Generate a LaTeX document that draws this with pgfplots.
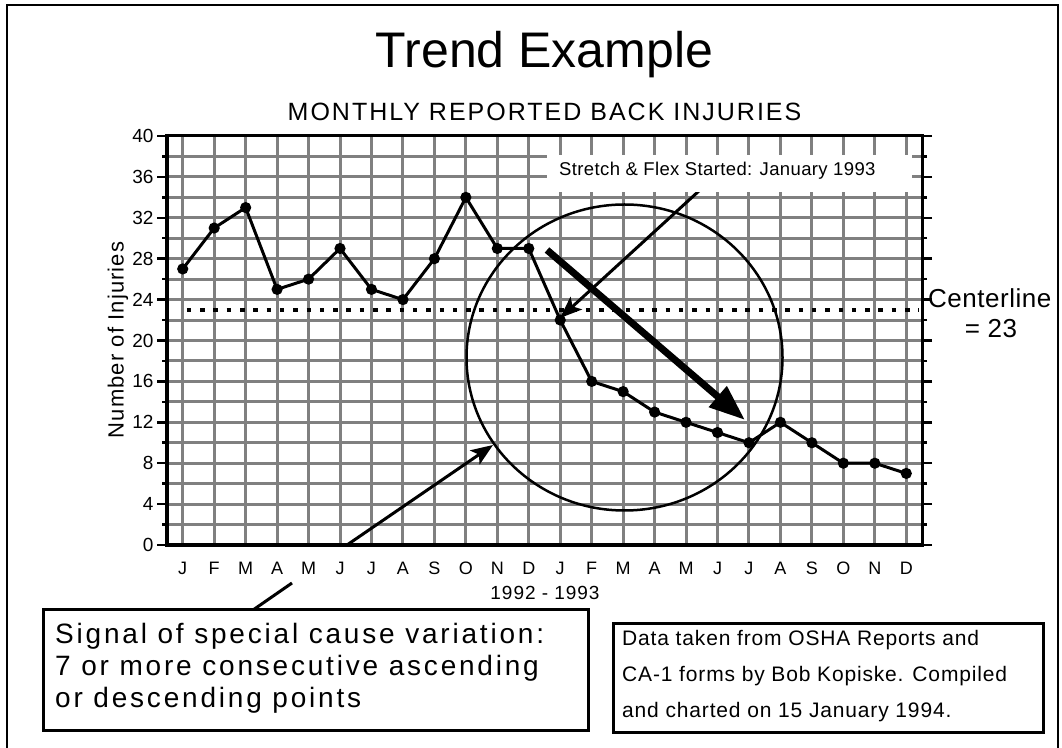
\documentclass[border=0pt]{standalone}
\usepackage{pgfplots}
\pgfplotsset{compat=1.18}
\usepackage{fontspec}
\setmainfont{Liberation Sans}
\usetikzlibrary{arrows.meta}
\newcommand\fs[1]{\fontsize{#1}{#1}\selectfont}
\definecolor{gridgray}{HTML}{808080}
\begin{document}
\begin{tikzpicture}
\begin{axis}[
  at={(167pt,202pt)}, anchor=south west,
  scale only axis, width=755pt, height=409pt,
  xmin=-0.5, xmax=23.5, ymin=0, ymax=40,
  xtick={0,...,23},
  xticklabels={J,F,M,A,M,J,J,A,S,O,N,D,J,F,M,A,M,J,J,A,S,O,N,D},
  ytick={0,4,...,40}, minor ytick={2,6,...,38},
  grid=both,
  major grid style={gridgray, line width=3pt},
  minor grid style={gridgray, line width=3pt},
  xtick style={draw=none},
  ytick style={black, line width=2.5pt},
  tick align=outside, major tick length=10pt, minor tick length=5pt,
  axis line style={black, line width=3pt},
  /pgf/number format/assume math mode=true,
  yticklabel style={font=\fs{19}},
  xticklabel style={font=\fs{18}, text height=13pt, text depth=0pt, yshift=-3pt},
]
\addplot[black, line width=4.5pt, dash pattern=on 4.5pt off 8.8pt] coordinates {(0.13,23) (23.4,23)};
\addplot[black, line width=3pt, mark=*, mark size=4pt] coordinates {
(0,27) (1,31) (2,33) (3,25) (4,26) (5,29) (6,25) (7,24) (8,28) (9,34) (10,29) (11,29)
(12,22) (13,16) (14,15) (15,13) (16,12) (17,11) (18,10) (19,12) (20,10) (21,8) (22,8) (23,7)};
\end{axis}
\begin{scope}[x=1pt,y=-1pt,shift={(0pt,747pt)}]
\useasboundingbox (0,0) rectangle (1062,747);
% thick left and bottom axis lines
\draw[line width=4.5pt] (167,134) -- (167,545) -- (922,545);
\draw[line width=2.5pt] (7,5) rectangle (1058,760);
% title
\node[anchor=base, inner sep=0] at (544.5,68) {\fs{50}Trend Example};
\node[anchor=base, inner sep=0] at (544.5,121) {\fs{25}\addfontfeature{LetterSpace=8}MONTHLY REPORTED BACK INJURIES};
% y label
\node[rotate=90, inner sep=0] at (118,340) {\fs{22}\addfontfeature{LetterSpace=5}Number of Injuries};
% x label
\node[anchor=base, inner sep=0] at (545,599) {\fs{19}\addfontfeature{LetterSpace=5}1992 - 1993};
% centerline
\node[anchor=base west, inner sep=0] at (928,308) {\fs{26}\addfontfeature{LetterSpace=2}Centerline};
\node[anchor=base, inner sep=0] at (991,338) {\fs{26}\addfontfeature{LetterSpace=2}= 23};
% arrows and circle
\draw[line width=3pt, -{Stealth[length=22pt,width=17pt,inset=5pt]}] (700,190) -- (560,318);
\draw[line width=2.5pt] (624.5,357.5) ellipse [x radius=158, y radius=153];
\draw[line width=7pt, -{Triangle[length=36pt,width=26pt]}] (547,250) -- (745,420);
\draw[line width=3pt, -{Stealth[length=22pt,width=17pt,inset=5pt]}] (347,545) -- (493,445);
\draw[line width=3pt] (253,610) -- (292,583);
% stretch box
\fill[white] (547,155) rectangle (912,192);
\node[anchor=base west, inner sep=0] at (559,176) {\fs{18.5}\addfontfeature{LetterSpace=2}Stretch \& Flex Started: January 1993};
% signal box
\draw[line width=3pt, fill=white] (43,609) rectangle (588,730);
\node[anchor=base west, inner sep=0] at (55,643) {\fs{28}\addfontfeature{LetterSpace=10}Signal of special cause variation:};
\node[anchor=base west, inner sep=0] at (55,675) {\fs{28}\addfontfeature{LetterSpace=10}7 or more consecutive ascending};
\node[anchor=base west, inner sep=0] at (55,707) {\fs{28}\addfontfeature{LetterSpace=10}or descending points};
% data box
\draw[line width=3pt] (613,623) rectangle (1043,732);
\node[anchor=base west, inner sep=0] at (622,645) {\fs{21}\addfontfeature{LetterSpace=4}Data taken from OSHA Reports and};
\node[anchor=base west, inner sep=0] at (622,681) {\fs{21}\addfontfeature{LetterSpace=4}CA-1 forms by Bob Kopiske. Compiled};
\node[anchor=base west, inner sep=0] at (622,717) {\fs{21}\addfontfeature{LetterSpace=4}and charted on 15 January 1994.};
\end{scope}
\end{tikzpicture}
\end{document}
